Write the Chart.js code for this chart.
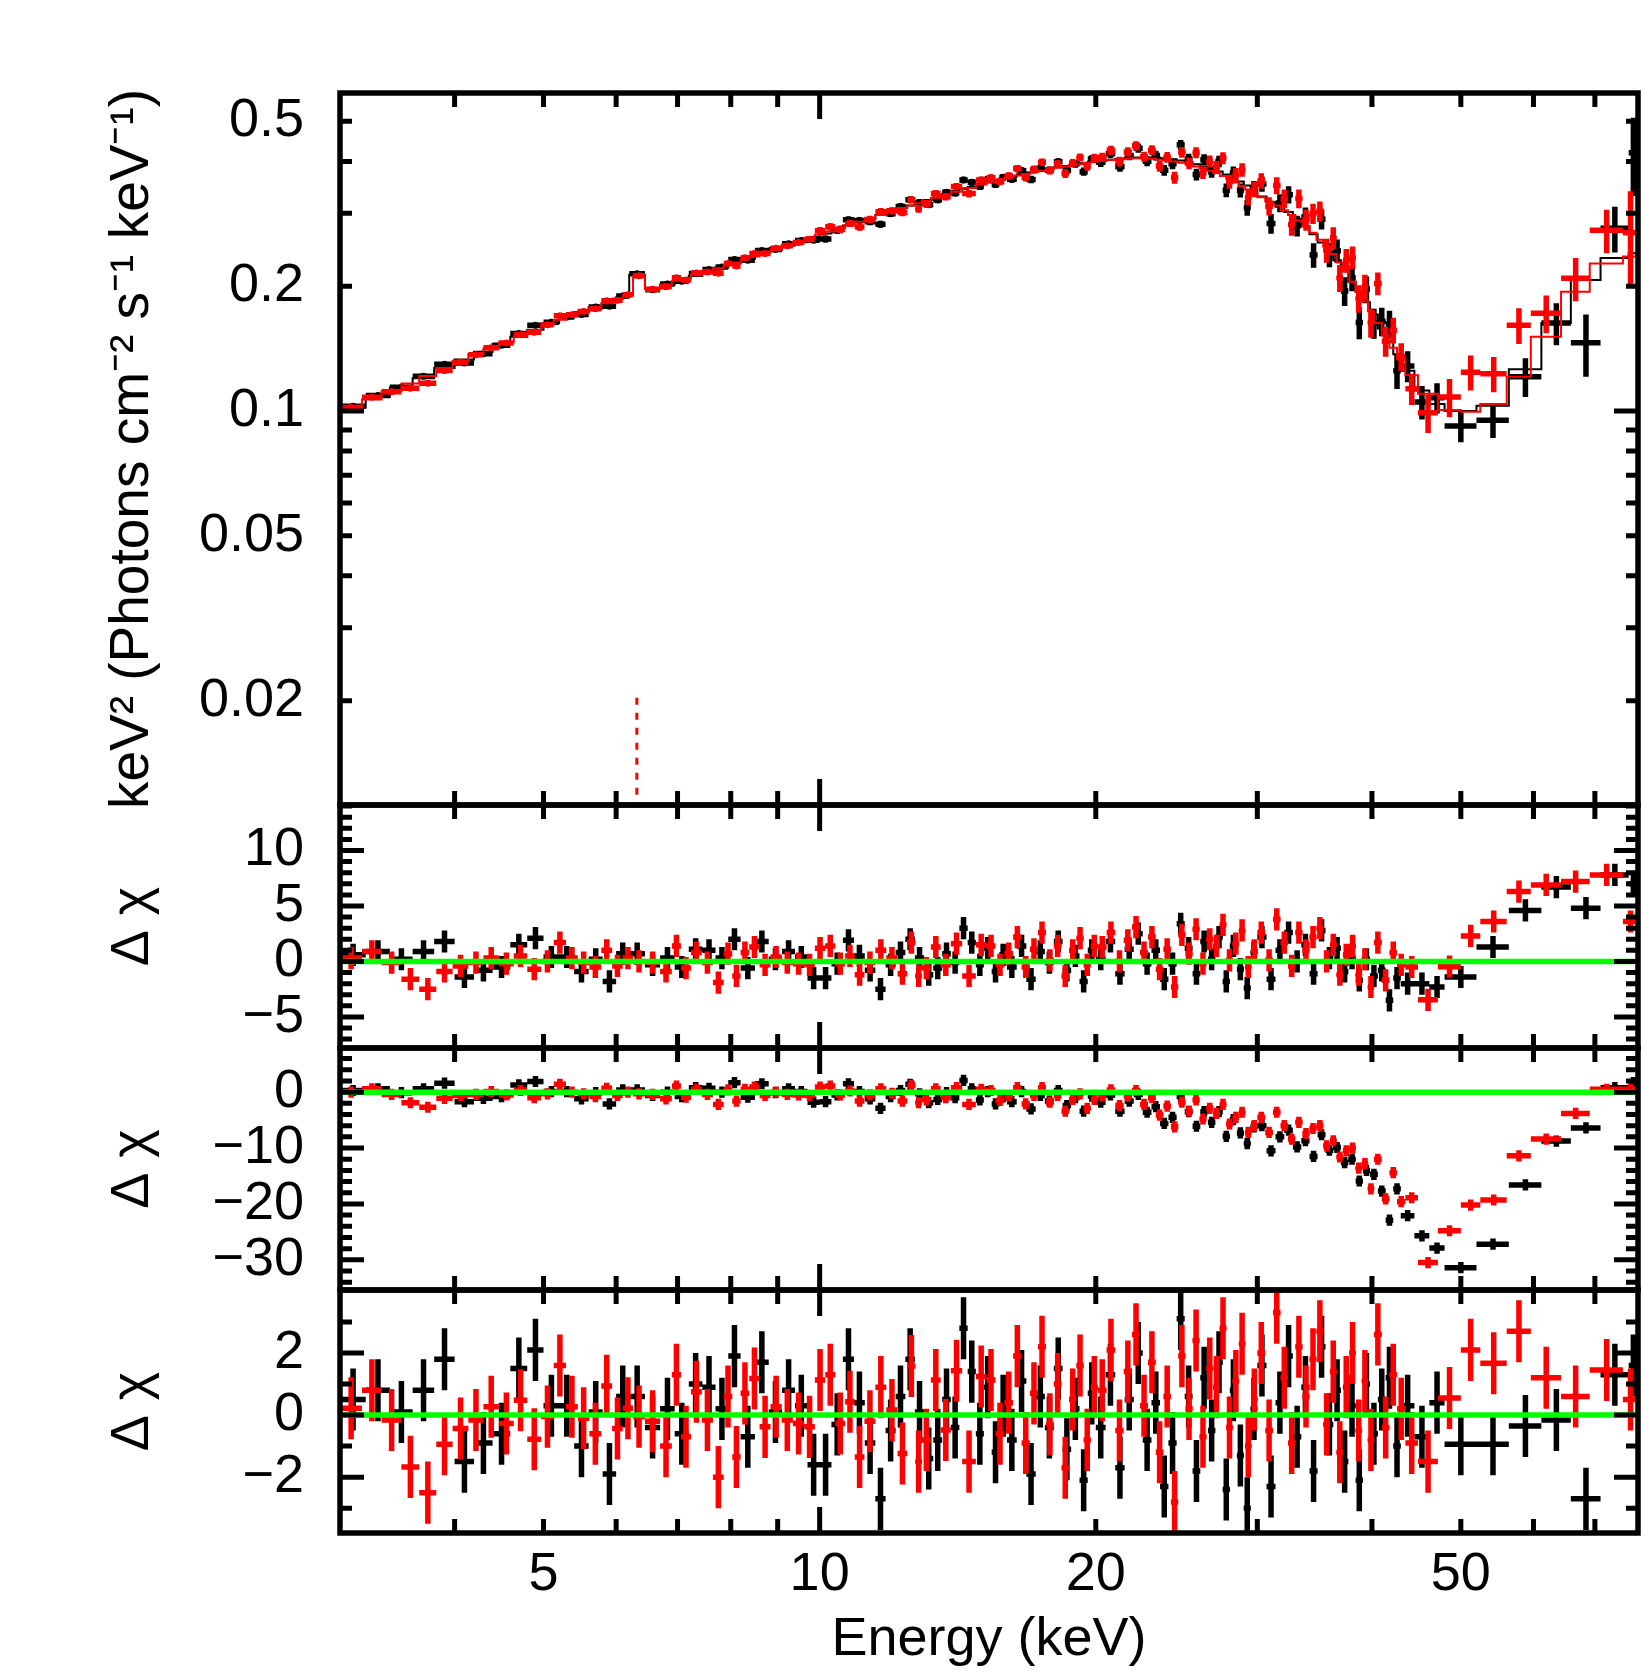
<!DOCTYPE html>
<html>
<head>
<meta charset="utf-8">
<script src="https://cdn.jsdelivr.net/npm/chart.js@4.4.1/dist/chart.umd.min.js"></script>
<style>
  body { margin: 0; background: #fff; }
  #wrap { position: relative; width: 1644px; height: 1673px; background: #fff; }
  #wrap canvas { position: absolute; left: 0; top: 0; }
</style>
</head>
<body>
<div id="wrap">
  <canvas id="spec" width="1644" height="1673"></canvas>
  <canvas id="res1" width="1644" height="1673"></canvas>
  <canvas id="res2" width="1644" height="1673"></canvas>
  <canvas id="res3" width="1644" height="1673"></canvas>
</div>
<script>
// ---- energy bins (keV), black = FPMA, red = FPMB ----
const blackEdges = [
  3.0,3.2,3.4,3.6,3.8,4.0,4.2,4.4,4.6,4.8,5.0,5.2,5.4,5.6,5.8,6.0,6.2,6.45,6.7,6.95,7.2,7.45,7.7,7.95,8.2,8.5,8.8,9.1,9.4,9.7,
  10.0,10.3,10.6,10.9,11.2,11.5,11.8,12.1,12.4,12.7,13.0,13.3,13.6,13.9,14.2,14.5,14.8,15.1,15.4,15.7,16.0,16.4,16.8,17.2,17.6,18.0,18.4,18.8,19.2,19.6,
  20.0,20.5,21.0,21.5,22.0,22.5,23.0,23.5,24.0,24.5,25.0,25.5,26.0,26.5,27.0,27.5,28.0,28.5,29.0,29.5,
  30.0,30.7,31.4,32.1,32.8,33.5,34.2,34.9,35.6,36.3,37.0,37.7,38.4,39.1,39.8,40.6,41.4,42.2,43.0,44.5,46.2,
  48.0,52.0,56.4,61.2,65.9,71.0,76.2,78.0
];
const blackFlux = [
  .1027,.109,.1141,.1212,.1297,.1306,.1375,.144,.1537,.161,.1636,.1686,.171,.1782,.179,.1893,.2144,.1961,.2025,.2056,.2145,.2193,.2225,.2319,.2311,.2438,.2453,.2533,.2579,.2582,
  .260,.2725,.2894,.2881,.2861,.2821,.2992,.3114,.3234,.3186,.3146,.3231,.3371,.3355,.3609,.3561,.348,.362,.3518,.3661,.3624,.3799,.3619,.3846,.3809,.399,.381,.3947,.3779,.4052,
  .398,.4173,.3883,.4133,.4306,.4002,.4135,.3808,.3946,.4386,.4052,.372,.4039,.3777,.3998,.3408,.3756,.3406,.3092,.3448,
  .353,.2833,.3174,.3324,.2797,.2936,.2378,.2902,.2382,.2436,.1947,.2095,.1635,.197,.1629,.1645,.162,.125,.1283,.1051,.1076,
  .092,.095,.121,.163,.146,.276,.42
];
const blackErr = [
  .0013,.0013,.0014,.0015,.0015,.0016,.0017,.0017,.0018,.0019,.0019,.002,.002,.0021,.0021,.0022,.0024,.0023,.0024,.0024,.0025,.0025,.0026,.0026,.0027,.0028,.0028,.0029,.003,.003,
  .005,.005,.0052,.0053,.0054,.0055,.0056,.0057,.0058,.0059,.006,.0061,.0062,.0063,.0064,.0065,.0066,.0067,.0068,.0069,.007,.0072,.0074,.0076,.0078,.008,.0082,.0084,.0086,.0088,
  .010,.0102,.0104,.0106,.0108,.011,.0112,.0114,.0116,.0118,.012,.0122,.0124,.0126,.0128,.013,.0132,.0134,.0136,.0138,
  .015,.0155,.016,.016,.0162,.0162,.0162,.016,.016,.0158,.0155,.015,.0145,.014,.0135,.013,.0125,.012,.011,.0098,.009,
  .008,.009,.013,.019,.025,.035,.09
];
const blackModel = [
  .102,.108,.114,.120,.127,.133,.139,.145,.151,.157,.163,.168,.173,.178,.183,.188,.213,.197,.202,.207,.212,.217,.222,.227,.233,.239,.245,.251,.257,.263,
  .268,.274,.280,.286,.291,.297,.302,.308,.313,.318,.323,.328,.334,.338,.343,.347,.352,.356,.360,.364,.368,.372,.376,.380,.384,.387,.390,.393,.396,.399,
  .402,.404,.406,.408,.409,.409,.409,.407,.405,.402,.398,.394,.389,.384,.378,.372,.365,.358,.350,.342,
  .329,.319,.311,.302,.291,.279,.267,.255,.243,.231,.218,.205,.194,.183,.171,.158,.147,.137,.125,.112,.104,
  .100,.103,.126,.163,.207,.234,.240
];
const blackChi1 = [
  0.6,0.9,0.2,0.9,1.8,-1.4,-0.8,-0.5,1.5,2.1,0.4,0.4,-0.9,0.2,-1.8,0.7,0.7,-0.3,0.3,-0.5,1.1,1.0,0.3,2.0,-0.6,1.8,0.2,0.9,0.4,-1.5,
  -1.5,-0.2,1.9,0.5,-0.8,-2.5,-0.3,0.8,2.0,0.3,-1.2,-0.6,0.7,-0.1,3.0,1.7,-0.3,1.2,-0.9,0.6,-0.5,1.4,-1.6,0.9,-0.1,1.8,-0.8,0.5,-1.8,1.0,
  0.2,1.8,-1.1,1.1,2.5,-0.2,1.0,-1.6,-0.2,3.4,1.2,-1.1,1.8,0.2,2.2,-1.8,1.4,-0.7,-2.4,0.8,
  2.2,-1.6,1.0,2.6,0.0,1.5,-1.1,2.8,0.3,1.2,-0.9,0.3,-1.7,0.2,-1.3,-0.8,-3.5,-1.5,-2.0,-2.0,-2.3,
  -1.4,1.3,4.6,6.7,4.8,7.8,7.0
];
const blackChi2 = [
  0.3,0.6,-0.1,0.6,1.6,-1.7,-1.1,-0.8,1.3,1.9,0.1,0.1,-1.2,-0.1,-2.1,0.4,0.4,-0.6,0.0,-0.8,0.8,0.7,0.0,1.7,-0.9,1.5,-0.1,0.6,0.1,-1.8,
  -1.7,-0.5,1.5,0.1,-1.2,-2.9,-0.8,0.3,1.4,-0.3,-1.9,-1.3,-0.1,-1.0,2.1,0.6,-1.4,0.1,-2.1,-0.8,-1.7,0.1,-3.0,-0.6,-1.6,0.3,-2.4,-1.0,-3.4,-0.7,
  -1.8,-0.5,-3.4,-1.6,-0.4,-3.6,-2.6,-5.6,-4.5,-0.8,-3.5,-6.1,-3.5,-5.4,-3.5,-7.9,-4.9,-7.3,-9.2,-6.2,
  -6.0,-10.5,-8.0,-6.8,-9.8,-8.7,-11.5,-7.6,-10.4,-9.9,-12.6,-12.0,-15.9,-14.0,-14.7,-17.7,-22.9,-17.3,-22.1,-25.7,-27.9,
  -31.4,-27.2,-16.6,-8.75,-6.4,0.8,1.7
];
const blackChi3 = [
  0.5,0.8,0.1,0.8,1.8,-1.5,-0.9,-0.6,1.5,2.1,0.3,0.3,-1.0,0.1,-1.9,0.6,0.6,-0.4,0.2,-0.6,1.0,0.9,0.2,1.9,-0.7,1.7,0.1,0.8,0.3,-1.6,
  -1.6,-0.3,1.8,0.4,-0.9,-2.7,-0.5,0.6,1.8,0.1,-1.4,-0.8,0.5,-0.4,2.8,1.4,-0.6,0.9,-1.2,0.3,-0.8,1.1,-1.9,0.6,-0.4,1.5,-1.1,0.2,-2.1,0.7,
  -0.4,1.3,-1.7,0.5,2.0,-0.8,0.4,-2.3,-0.9,3.1,0.6,-1.8,1.2,-0.5,1.7,-2.4,0.8,-1.3,-3.0,0.2,
  1.6,-2.3,0.4,1.9,-0.7,0.9,-1.8,2.2,-0.3,0.8,-1.5,0.3,-2.1,1.0,-0.6,0.5,1.2,-1.0,0.3,-0.7,0.4,
  -0.94,-0.94,-0.35,-0.16,-2.7,1.3,1.6
];

const redEdges = [
  3.0,3.17,3.33,3.5,3.66,3.82,3.98,4.14,4.3,4.47,4.64,4.8,4.97,5.13,5.29,5.45,5.61,5.78,5.94,6.1,6.26,6.45,6.7,6.9,7.06,7.24,7.44,7.65,7.86,8.03,8.2,8.38,8.6,8.84,9.09,9.35,9.62,
  9.88,10.14,10.4,10.66,10.92,11.19,11.5,11.82,12.16,12.46,12.72,12.92,13.22,13.55,13.9,14.3,14.8,15.2,15.55,15.9,16.25,16.6,16.95,17.3,17.65,18.0,18.35,18.7,19.05,19.4,19.75,
  20.1,20.55,21.0,21.45,21.9,22.35,22.8,23.25,23.7,24.15,24.6,25.05,25.5,25.95,26.4,26.85,27.3,27.75,28.2,28.65,29.1,29.55,
  30.0,30.6,31.2,31.8,32.4,33.0,33.6,34.2,34.8,35.4,36.0,36.6,37.2,37.8,38.4,39.0,39.6,40.2,41.0,41.8,42.6,43.5,
  44.9,47.2,50.0,52.5,56.1,59.6,64.3,69.1,75.1,78.0
];
const redFlux = [
  .1019,.1079,.1112,.1135,.1167,.1252,.1311,.1367,.1421,.1459,.1526,.1548,.1614,.1697,.1706,.1738,.1765,.1844,.1849,.1906,.2119,.1965,.1993,.2096,.207,.2152,.2165,.215,.2268,.2238,.2342,.2397,.2398,.2469,.2505,.2551,.2597,
  .2722,.2783,.2745,.2835,.278,.2898,.3025,.304,.3012,.3231,.3072,.3157,.3346,.3287,.3479,.3345,.3609,.3652,.3576,.369,.3846,.3659,.3827,.3983,.3804,.3947,.3739,.3966,.4089,.3894,.4077,
  .4094,.4255,.3995,.4215,.4364,.4105,.4259,.3897,.4093,.3656,.4208,.3955,.420,.3758,.400,.3872,.4074,.3574,.3715,.3819,.3275,.3424,
  .359,.312,.350,.3252,.2817,.3254,.2892,.2992,.3036,.2441,.2614,.2093,.2307,.2346,.1868,.1992,.1634,.203,.1472,.1566,.1351,.1132,
  .099,.108,.124,.123,.161,.172,.209,.273,.269
];
const redErr = [
  .0017,.0017,.0018,.0018,.0019,.0019,.002,.002,.0021,.0021,.0022,.0022,.0023,.0023,.0024,.0024,.0025,.0025,.0026,.0026,.0028,.0026,.0027,.0028,.0028,.0029,.0029,.003,.003,.0031,.0031,.0031,.0032,.0032,.0033,.0033,.0034,
  .0055,.0056,.0057,.0058,.0059,.006,.0061,.0062,.0063,.0064,.0065,.0066,.0067,.0068,.0069,.007,.0072,.0073,.0074,.0075,.0077,.0079,.0081,.0083,.0085,.0087,.0089,.0091,.0093,.0095,.0097,
  .0105,.0107,.0109,.0111,.0113,.0115,.0117,.0119,.0121,.0123,.0125,.0127,.0129,.0131,.0133,.0135,.0137,.0139,.0141,.0143,.0145,.0147,
  .0155,.016,.0165,.0168,.017,.017,.017,.0168,.0165,.0162,.016,.0156,.0152,.0148,.0143,.0138,.0133,.0128,.012,.0112,.0105,.0098,
  .0105,.0115,.012,.012,.016,.018,.025,.033,.07
];
const redModel = [
  .1015,.1065,.1115,.1165,.1215,.127,.132,.137,.1415,.1465,.1515,.1565,.1615,.166,.170,.174,.178,.182,.186,.190,.212,.197,.202,.206,.209,.213,.217,.221,.225,.228,.232,.236,.241,.246,.251,.256,.261,
  .266,.271,.276,.281,.286,.291,.297,.303,.309,.313,.317,.321,.327,.332,.338,.345,.352,.357,.362,.366,.370,.373,.377,.380,.383,.386,.389,.392,.394,.397,.399,
  .401,.403,.405,.406,.407,.407,.406,.404,.402,.400,.397,.393,.389,.385,.380,.375,.369,.363,.356,.349,.342,.335,
  .328,.320,.313,.305,.297,.288,.279,.269,.259,.249,.239,.228,.217,.205,.194,.184,.174,.163,.152,.142,.133,.122,
  .110,.1005,.0995,.104,.121,.151,.194,.227,.236
];
const redChi1 = [
  0.3,0.9,-0.1,-1.6,-2.5,-0.9,-0.4,-0.1,0.3,-0.2,0.5,-0.7,0.0,1.7,0.3,-0.1,-0.5,1.0,-0.4,0.3,0.0,-0.1,-0.9,1.4,-0.6,0.8,-0.1,-1.9,0.7,-1.3,0.8,1.3,-0.3,0.4,-0.1,-0.2,-0.3,
  1.2,1.4,-0.2,0.5,-1.2,-0.1,1.0,0.3,-1.1,1.7,-1.3,-0.6,1.3,-0.3,1.6,-1.3,1.5,1.4,-0.3,0.7,2.2,-0.5,1.1,2.6,0.1,1.4,-1.3,1.0,2.1,-0.3,1.4,
  1.3,2.6,0.0,1.9,3.1,0.8,2.2,-0.7,1.1,-2.3,2.4,0.7,2.9,-0.2,2.0,1.4,3.3,0.1,1.6,2.8,-0.5,1.0,
  2.6,0.1,3.8,1.7,-0.4,2.6,1.0,2.2,3.0,0.0,1.5,-1.2,0.6,1.4,-1.2,0.2,-2.3,1.7,-1.7,0.8,-0.3,-0.5,
  -3.46,-0.47,2.3,3.6,6.3,6.9,7.2,7.8,3.6
];
const redChi2 = [
  0.0,0.6,-0.4,-1.9,-2.7,-1.1,-0.6,-0.4,0.1,-0.5,0.3,-1.0,-0.3,1.4,0.0,-0.3,-0.8,0.7,-0.6,0.0,-0.3,-0.4,-1.2,1.1,-0.9,0.5,-0.4,-2.2,0.4,-1.6,0.5,0.9,-0.6,0.0,-0.4,-0.5,-0.6,
  0.9,1.1,-0.5,0.2,-1.6,-0.5,0.6,-0.2,-1.6,1.2,-1.9,-1.3,0.6,-1.0,0.8,-2.2,0.5,0.3,-1.5,-0.6,0.8,-2.1,-0.6,0.8,-1.8,-0.6,-3.4,-1.3,-0.3,-2.9,-1.3,
  -0.7,0.4,-2.4,-0.7,0.3,-2.2,-1.0,-4.1,-2.5,-6.2,-1.8,-3.4,-1.4,-4.8,-2.9,-3.8,-2.2,-5.7,-4.5,-3.6,-7.2,-6.0,
  -4.5,-7.2,-3.6,-6.0,-8.4,-5.4,-7.4,-6.5,-6.0,-9.6,-8.7,-11.6,-10.5,-10.0,-13.6,-12.8,-17.3,-12.0,-19.1,-14.4,-19.6,-18.9,
  -30.5,-24.8,-20.2,-19.3,-11.4,-8.4,-3.8,0.5,0.5
];
const redChi3 = [
  0.22,0.8,-0.16,-1.67,-2.5,-0.94,-0.43,-0.16,0.27,-0.27,0.48,-0.78,-0.05,1.6,0.27,-0.1,-0.6,0.94,-0.43,0.22,-0.05,-0.2,-1.0,1.3,-0.7,0.75,-0.16,-2.0,0.6,-1.35,0.7,1.18,-0.38,0.27,-0.16,-0.27,-0.38,
  1.13,1.3,-0.27,0.43,-1.35,-0.2,0.9,0.16,-1.24,1.58,-1.5,-0.8,1.13,-0.48,1.43,-1.5,1.24,1.13,-0.6,0.4,1.9,-0.9,0.7,2.2,-0.3,1.0,-1.7,0.5,1.6,-0.8,0.9,
  0.8,2.1,-0.5,1.4,2.6,0.3,1.7,-1.2,0.6,-2.8,1.9,0.2,2.4,-0.7,1.5,0.9,2.8,-0.4,1.1,2.3,-1.0,0.5,
  2.0,-0.5,3.3,1.2,-0.9,2.2,0.6,1.8,2.7,-0.3,1.4,-1.2,0.9,2.0,-0.5,1.1,-0.8,2.6,-0.4,1.3,0.2,-0.9,
  -1.5,0.55,2.1,1.67,2.7,1.2,0.6,1.45,0.5
];

// narrow Fe line component (dashed, red) at ~6.3 keV
const lineCompE = 6.32;
const lineCompHalfWidth = 0.012;
const lineCompPeak = 0.0208;

// ---- axes ----
const xMin = 3, xMax = 78;
const xLabelTicks = [5, 10, 20, 50];
const xMinorTicks = [4, 5, 6, 7, 8, 9, 20, 30, 40, 50, 60, 70];
const xMajorTicks = [10];

const specYMin = 0.0112, specYMax = 0.585;
const specLabelTicks = [0.02, 0.05, 0.1, 0.2, 0.5];
const specMinorTicks = [0.02, 0.03, 0.04, 0.05, 0.06, 0.07, 0.08, 0.09, 0.2, 0.3, 0.4, 0.5];
const specMajorTicks = [0.1];

const res1Range = [-7.8, 14.1];
const res1LabelTicks = [-5, 0, 5, 10];
const res1MinorTicks = [-7, -6, -4, -3, -2, -1, 1, 2, 3, 4, 6, 7, 8, 9, 11, 12, 13, 14];
const res2Range = [-35.4, 7.9];
const res2LabelTicks = [-30, -20, -10, 0];
const res2MinorTicks = [-34, -32, -28, -26, -24, -22, -18, -16, -14, -12, -8, -6, -4, -2, 2, 4, 6];
const res3Range = [-3.8, 4.03];
const res3LabelTicks = [-2, 0, 2];
const res3MinorTicks = [-3, -1, 1, 3];

const FONT = '"Liberation Sans", Arial, Helvetica, sans-serif';
Chart.defaults.font.family = FONT;
Chart.defaults.color = '#000';

// turn binned values into error-cross segments (gaps split them), centre marked
function crosses(edges, vals, errs) {
  const pts = [];
  for (let i = 0; i < vals.length; i++) {
    const lo = edges[i], hi = edges[i + 1], mid = (lo + hi) / 2;
    const e = Array.isArray(errs) ? errs[i] : errs;
    pts.push({x: lo, y: vals[i]}, {x: hi, y: vals[i]}, {x: hi, y: null});
    pts.push({x: mid, y: vals[i] - e}, {x: mid, y: vals[i], c: 1}, {x: mid, y: vals[i] + e}, {x: mid, y: null});
  }
  return pts;
}

function steps(edges, vals) {
  const pts = vals.map((v, i) => ({x: edges[i], y: v}));
  pts.push({x: edges[edges.length - 1], y: vals[vals.length - 1]});
  return pts;
}

function lineDs(data, color, width, extra) {
  return Object.assign({
    data: data, borderColor: color, backgroundColor: color, borderWidth: width,
    pointRadius: 0, spanGaps: false, tension: 0, fill: false, clip: 0
  }, extra || {});
}

function crossDs(data, color) {
  return lineDs(data, color, 5.5, {
    pointRadius: c => (c.raw && c.raw.c ? 3.5 : 0),
    pointBorderWidth: 0,
    pointBackgroundColor: color
  });
}

// frame + inward ticks on all four sides
const framePlugin = {
  id: 'frame',
  afterDatasetsDraw(chart, args, opts) {
    const {ctx, chartArea: a} = chart;
    const xs = chart.scales.x, ys = chart.scales.y;
    ctx.save();
    ctx.strokeStyle = '#000';
    ctx.lineCap = 'butt';
    ctx.lineWidth = 5;
    ctx.beginPath();
    const xt = (vals, len) => vals.forEach(v => {
      const px = xs.getPixelForValue(v);
      ctx.moveTo(px, a.top); ctx.lineTo(px, a.top + len);
      ctx.moveTo(px, a.bottom); ctx.lineTo(px, a.bottom - len);
    });
    const yt = (vals, len) => vals.forEach(v => {
      const py = ys.getPixelForValue(v);
      ctx.moveTo(a.left, py); ctx.lineTo(a.left + len, py);
      ctx.moveTo(a.right, py); ctx.lineTo(a.right - len, py);
    });
    xt(xMinorTicks, 14);
    xt(xMajorTicks, 26);
    yt(opts.yMinor, 12);
    yt(opts.yMajor, 24);
    ctx.stroke();
    ctx.lineWidth = 5.5;
    ctx.strokeRect(a.left, a.top, a.right - a.left, a.bottom - a.top);
    // y axis title, drawn rotated and unsquashed
    ctx.fillStyle = '#000';
    ctx.font = opts.titleSize + 'px ' + FONT;
    ctx.textAlign = 'center';
    ctx.textBaseline = 'middle';
    ctx.translate(133, (a.top + a.bottom) / 2);
    ctx.rotate(-Math.PI / 2);
    ctx.fillText(opts.title, 0, 0);
    ctx.restore();
  }
};

function makeChart(id, cfg) {
  const showX = !!cfg.showX;
  return new Chart(document.getElementById(id), {
    type: 'line',
    data: {datasets: cfg.datasets},
    plugins: [framePlugin],
    options: {
      responsive: false,
      animation: false,
      events: [],
      layout: {padding: {left: 0, right: 6, top: cfg.top, bottom: showX ? 0 : 1673 - cfg.bottom}},
      plugins: {
        legend: {display: false},
        tooltip: {enabled: false},
        frame: {yMinor: cfg.yMinor, yMajor: cfg.yMajor, title: cfg.title, titleSize: cfg.titleSize}
      },
      scales: {
        x: {
          type: 'logarithmic', min: xMin, max: xMax, display: showX,
          afterFit: s => { s.height = showX ? 1673 - cfg.bottom : 0; },
          afterBuildTicks: s => { s.ticks = xLabelTicks.map(v => ({value: v})); },
          grid: {display: false, drawTicks: false},
          border: {display: false},
          ticks: {
            autoSkip: false, maxRotation: 0, padding: 10,
            font: {size: 54}, color: '#000',
            callback: v => String(v)
          },
          title: {display: true, text: 'Energy (keV)', font: {size: 54}, color: '#000', padding: 0}
        },
        y: {
          type: cfg.yType, min: cfg.yMin, max: cfg.yMax,
          afterFit: s => { s.width = 340; },
          afterBuildTicks: s => { s.ticks = cfg.yLabels.map(v => ({value: v})); },
          grid: {display: false, drawTicks: false},
          border: {display: false},
          ticks: {
            autoSkip: false, padding: 36,
            font: {size: 54}, color: '#000',
            callback: v => String(v).replace('-', '\u2212')
          }
        }
      }
    }
  });
}

const GREEN = '#00ff00';
const zeroLine = [{x: xMin, y: 0}, {x: xMax, y: 0}];

// top: unfolded spectrum
makeChart('spec', {
  top: 93, bottom: 805, yType: 'logarithmic', yMin: specYMin, yMax: specYMax,
  yLabels: specLabelTicks, yMinor: specMinorTicks, yMajor: specMajorTicks,
  title: 'keV\u00b2 (Photons cm\u207b\u00b2 s\u207b\u00b9 keV\u207b\u00b9)', titleSize: 55,
  datasets: [
    lineDs([
      {x: lineCompE, y: specYMin * 0.5}, {x: lineCompE, y: lineCompPeak},
      {x: lineCompE - lineCompHalfWidth, y: lineCompPeak}
    ], '#ff0000', 3, {borderDash: [7, 8]}),
    lineDs(steps(redEdges, redModel), '#ff0000', 2, {stepped: true}),
    crossDs(crosses(redEdges, redFlux, redErr), '#ff0000'),
    lineDs(steps(blackEdges, blackModel), '#000000', 2, {stepped: true}),
    crossDs(crosses(blackEdges, blackFlux, blackErr), '#000000')
  ]
});

makeChart('res1', {
  top: 805, bottom: 1048, yType: 'linear', yMin: res1Range[0], yMax: res1Range[1],
  yLabels: res1LabelTicks, yMinor: res1MinorTicks, yMajor: res1LabelTicks,
  title: '\u0394 \u03c7', titleSize: 54,
  datasets: [
    lineDs(zeroLine, GREEN, 5.5),
    crossDs(crosses(redEdges, redChi1, 1), '#ff0000'),
    crossDs(crosses(blackEdges, blackChi1, 1), '#000000')
  ]
});

makeChart('res2', {
  top: 1048, bottom: 1290, yType: 'linear', yMin: res2Range[0], yMax: res2Range[1],
  yLabels: res2LabelTicks, yMinor: res2MinorTicks, yMajor: res2LabelTicks,
  title: '\u0394 \u03c7', titleSize: 54,
  datasets: [
    lineDs(zeroLine, GREEN, 5.5),
    crossDs(crosses(redEdges, redChi2, 1), '#ff0000'),
    crossDs(crosses(blackEdges, blackChi2, 1), '#000000')
  ]
});

makeChart('res3', {
  top: 1290, bottom: 1533, showX: true, yType: 'linear', yMin: res3Range[0], yMax: res3Range[1],
  yLabels: res3LabelTicks, yMinor: res3MinorTicks, yMajor: res3LabelTicks,
  title: '\u0394 \u03c7', titleSize: 54,
  datasets: [
    lineDs(zeroLine, GREEN, 5.5),
    crossDs(crosses(redEdges, redChi3, 1), '#ff0000'),
    crossDs(crosses(blackEdges, blackChi3, 1), '#000000')
  ]
});
</script>
</body>
</html>
